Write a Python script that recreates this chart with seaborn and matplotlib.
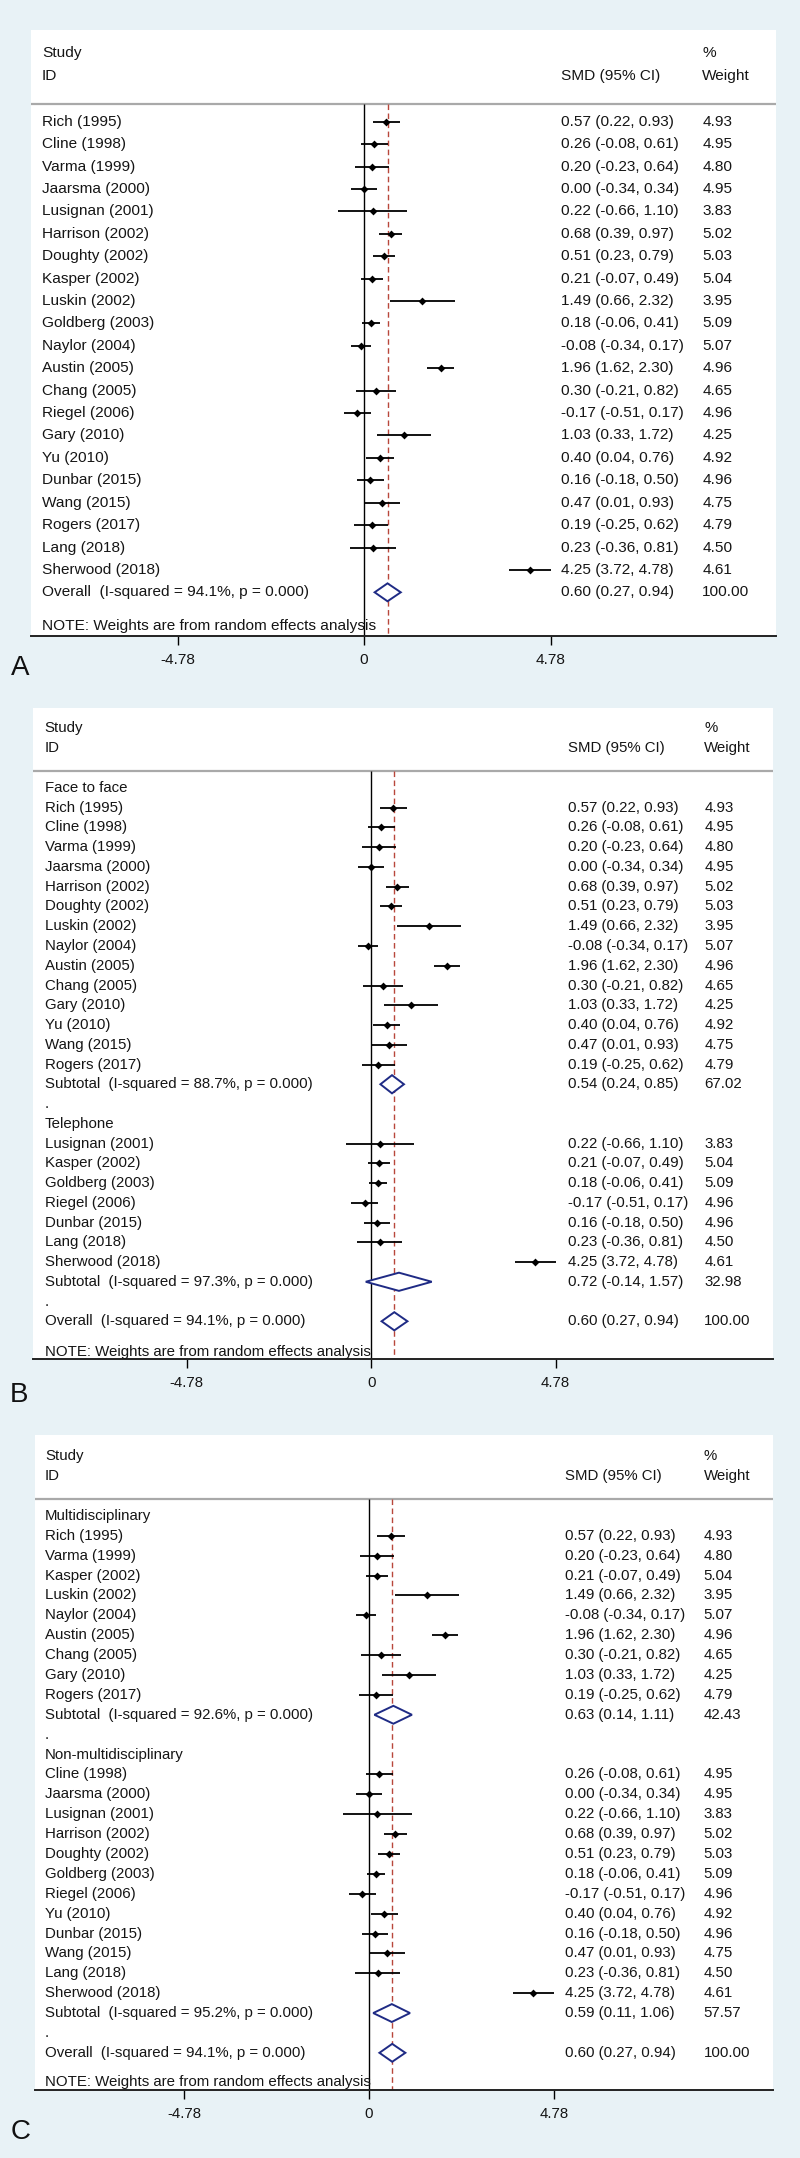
import pandas as pd
import seaborn as sns
import matplotlib.pyplot as plt
import matplotlib.transforms as mtransforms

# study level data
studies = ["Rich (1995)", "Cline (1998)", "Varma (1999)", "Jaarsma (2000)", "Lusignan (2001)",
           "Harrison (2002)", "Doughty (2002)", "Kasper (2002)", "Luskin (2002)", "Goldberg (2003)",
           "Naylor (2004)", "Austin (2005)", "Chang (2005)", "Riegel (2006)", "Gary (2010)",
           "Yu (2010)", "Dunbar (2015)", "Wang (2015)", "Rogers (2017)", "Lang (2018)",
           "Sherwood (2018)"]
smd = [0.57, 0.26, 0.20, 0.00, 0.22, 0.68, 0.51, 0.21, 1.49, 0.18,
       -0.08, 1.96, 0.30, -0.17, 1.03, 0.40, 0.16, 0.47, 0.19, 0.23, 4.25]
ci_low = [0.22, -0.08, -0.23, -0.34, -0.66, 0.39, 0.23, -0.07, 0.66, -0.06,
          -0.34, 1.62, -0.21, -0.51, 0.33, 0.04, -0.18, 0.01, -0.25, -0.36, 3.72]
ci_high = [0.93, 0.61, 0.64, 0.34, 1.10, 0.97, 0.79, 0.49, 2.32, 0.41,
           0.17, 2.30, 0.82, 0.17, 1.72, 0.76, 0.50, 0.93, 0.62, 0.81, 4.78]
weight = [4.93, 4.95, 4.80, 4.95, 3.83, 5.02, 5.03, 5.04, 3.95, 5.09,
          5.07, 4.96, 4.65, 4.96, 4.25, 4.92, 4.96, 4.75, 4.79, 4.50, 4.61]

overall = [0.60, 0.27, 0.94, 100.00]
overall_i2 = "94.1%"

# subgroup B: delivery mode
delivery_groups = ["Face to face", "Telephone"]
delivery_members = [
    ["Rich (1995)", "Cline (1998)", "Varma (1999)", "Jaarsma (2000)", "Harrison (2002)",
     "Doughty (2002)", "Luskin (2002)", "Naylor (2004)", "Austin (2005)", "Chang (2005)",
     "Gary (2010)", "Yu (2010)", "Wang (2015)", "Rogers (2017)"],
    ["Lusignan (2001)", "Kasper (2002)", "Goldberg (2003)", "Riegel (2006)", "Dunbar (2015)",
     "Lang (2018)", "Sherwood (2018)"],
]
delivery_subtotal = [[0.54, 0.24, 0.85, 67.02], [0.72, -0.14, 1.57, 32.98]]
delivery_i2 = ["88.7%", "97.3%"]

# subgroup C: team type
team_groups = ["Multidisciplinary", "Non-multidisciplinary"]
team_members = [
    ["Rich (1995)", "Varma (1999)", "Kasper (2002)", "Luskin (2002)", "Naylor (2004)",
     "Austin (2005)", "Chang (2005)", "Gary (2010)", "Rogers (2017)"],
    ["Cline (1998)", "Jaarsma (2000)", "Lusignan (2001)", "Harrison (2002)", "Doughty (2002)",
     "Goldberg (2003)", "Riegel (2006)", "Yu (2010)", "Dunbar (2015)", "Wang (2015)",
     "Lang (2018)", "Sherwood (2018)"],
]
team_subtotal = [[0.63, 0.14, 1.11, 42.43], [0.59, 0.11, 1.06, 57.57]]
team_i2 = ["92.6%", "95.2%"]

ticks = [-4.78, 0, 4.78]
tick_labels = ["-4.78", "0", "4.78"]

sns.set_theme(style="white")
plt.rcParams["font.family"] = ["Liberation Sans", "DejaVu Sans"]

BG = "#e8f2f6"
TXT = "#151515"
NAVY = "#1f2b85"
RED = "#b8473b"

lookup = {s: (e, l, h, w) for s, e, l, h, w in zip(studies, smd, ci_low, ci_high, weight)}


def overall_row():
    return ("pooled", f"Overall  (I-squared = {overall_i2}, p = 0.000)", *overall)


def build_rows(groups=None, members=None, subtotals=None, i2s=None):
    rows = []
    if groups is None:
        for s in studies:
            rows.append(("study", s, *lookup[s]))
    else:
        for g, mem, sub, i2 in zip(groups, members, subtotals, i2s):
            rows.append(("group", g))
            for s in mem:
                rows.append(("study", s, *lookup[s]))
            rows.append(("pooled", f"Subtotal  (I-squared = {i2}, p = 0.000)", *sub))
            rows.append(("dot", "."))
    rows.append(overall_row())
    return rows


def draw_panel(ax, rows, xlim, ylim, y_study, y_id, y_hdr, y_note, cols, fs, dh, letter_pos):
    ax.set_facecolor("white")
    ax.set_xlim(*xlim)
    ax.set_ylim(*ylim)
    tr = mtransforms.blended_transform_factory(ax.transAxes, ax.transData)
    xs, xc, xw = cols

    # header
    ax.text(xs, y_study, "Study", transform=tr, fontsize=fs, color=TXT, va="center")
    ax.text(xs, y_id, "ID", transform=tr, fontsize=fs, color=TXT, va="center")
    ax.text(xc, y_id, "SMD (95% CI)", transform=tr, fontsize=fs, color=TXT, va="center")
    ax.text(xw, y_study, "%", transform=tr, fontsize=fs, color=TXT, va="center")
    ax.text(xw, y_id, "Weight", transform=tr, fontsize=fs, color=TXT, va="center")
    ax.axhline(y_hdr, color="#a9a9a9", lw=1.6)

    bottom = ylim[0]
    ax.vlines(0, y_hdr, bottom, color="black", lw=1.0, zorder=2)
    ax.vlines(overall[0], y_hdr, bottom, color=RED, lw=1.0, linestyles=(0, (4, 2.5)), zorder=2)

    pts = []
    for i, r in enumerate(rows):
        kind = r[0]
        if kind in ("group", "dot"):
            ax.text(xs, i, r[1], transform=tr, fontsize=fs, color=TXT, va="center")
            continue
        name, e, lo, hi, w = r[1:]
        ax.text(xs, i, name, transform=tr, fontsize=fs, color=TXT, va="center")
        ax.text(xc, i, f"{e:.2f} ({lo:.2f}, {hi:.2f})", transform=tr, fontsize=fs,
                color=TXT, va="center")
        ax.text(xw, i, f"{w:.2f}", transform=tr, fontsize=fs, color=TXT, va="center")
        if kind == "study":
            pts.append({"smd": e, "lo": lo, "hi": hi, "row": i})
        else:
            ax.fill([lo, e, hi, e, lo], [i, i - dh, i, i + dh, i], facecolor="white",
                    edgecolor=NAVY, lw=1.4, zorder=5)

    df = pd.DataFrame(pts)
    ax.hlines(df["row"], df["lo"], df["hi"], color="black", lw=1.3, zorder=3)
    sns.scatterplot(data=df, x="smd", y="row", marker="D", s=16, color="black",
                    edgecolor="black", linewidth=0, ax=ax, zorder=4, legend=False)

    ax.text(xs, y_note, "NOTE: Weights are from random effects analysis", transform=tr,
            fontsize=fs, color=TXT, va="center")

    ax.set_xlabel("")
    ax.set_ylabel("")
    ax.set_yticks([])
    ax.set_xticks(ticks)
    ax.set_xticklabels(tick_labels, fontsize=fs, color=TXT)
    ax.tick_params(axis="x", direction="out", length=6.5, width=1.0, pad=6.0,
                   bottom=True, color="black")
    for side in ("top", "left", "right"):
        ax.spines[side].set_visible(False)
    ax.spines["bottom"].set_color("#222222")
    ax.spines["bottom"].set_linewidth(1.4)

    fig.text(letter_pos[0], letter_pos[1], letter_pos[2], fontsize=20, color="#111111",
             ha="center", va="center")


W, H = 800, 2158
fig = plt.figure(figsize=(W / 100, H / 100), dpi=100)
fig.patch.set_facecolor(BG)


def axes_at(left, top, right, bottom):
    return fig.add_axes([left / W, 1 - bottom / H, (right - left) / W, (bottom - top) / H])


# panel A
axA = axes_at(31, 30, 776, 636)
draw_panel(axA, build_rows(), (-8.54, 10.56), (22.95, -4.1), -3.08, -2.05, -0.8, 22.5,
           (0.0148, 0.711, 0.901), 11.1, 0.4, (20 / W, 1 - 668 / H, "A"))

# panel B
axB = axes_at(33, 708, 773, 1359)
draw_panel(axB, build_rows(delivery_groups, delivery_members, delivery_subtotal, delivery_i2),
           (-8.76, 10.41), (28.91, -4.05), -3.04, -2.03, -0.86, 28.56,
           (0.016, 0.723, 0.907), 10.8, 0.46, (19 / W, 1 - 1395 / H, "B"))

# panel C
axC = axes_at(35, 1435, 773, 2090)
draw_panel(axC, build_rows(team_groups, team_members, team_subtotal, team_i2),
           (-8.63, 10.44), (28.87, -4.07), -3.02, -2.01, -0.86, 28.47,
           (0.0136, 0.718, 0.906), 10.8, 0.45, (21 / W, 1 - 2132 / H, "C"))

fig.savefig("out.png", dpi=100, facecolor=fig.get_facecolor())
